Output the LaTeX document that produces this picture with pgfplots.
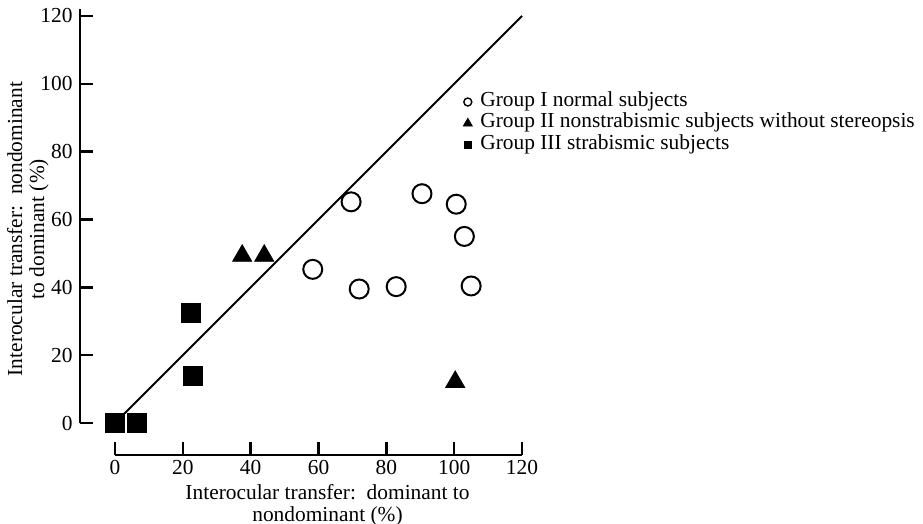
\documentclass[border=0pt]{standalone}
\usepackage{fontspec}
\setmainfont{Liberation Serif}
\usepackage{pgfplots}
\pgfplotsset{compat=1.18}
\begin{document}
\fontsize{10.7}{11}\selectfont
\begin{tikzpicture}
\useasboundingbox (-57.5pt,-50.5pt) rectangle (404pt,211.5pt);
\begin{axis}[
  at={(0,0)}, anchor=origin,
  x=1.696pt, y=1.696pt,
  xmin=0, xmax=120, ymin=0, ymax=122,
  axis lines=left,
  axis line style={-, line width=1.2pt},
  axis x line shift=16pt,
  axis y line shift=17.5pt,
  xtick={0,20,...,120}, ytick={0,20,...,120},
  tick align=inside,
  major tick length=6.5pt,
  tick style={line width=1.2pt, black},
  clip=false,
  font=\fontsize{10.7}{11}\selectfont,
  /pgf/number format/assume math mode=true,
  xticklabel style={yshift=1pt},
  xlabel={Interocular transfer:\ \ dominant to\\nondominant (\%)},
  ylabel={Interocular transfer:\ \ nondominant\\to dominant (\%)},
  xlabel style={align=center, xshift=4.5pt, yshift=2.5pt},
  ylabel style={align=center, xshift=-6.5pt, yshift=-11.5pt},
  legend style={at={(axis cs:100.8,99.1)}, anchor=north west, draw=none, fill=none,
    font=\fontsize{10.7}{11}\selectfont,
    nodes={inner sep=0pt, text height=7.5pt, text depth=3.25pt},
    /tikz/every odd column/.append style={column sep=4pt}},
  legend cell align=left,
  legend image code/.code={\draw[#1] plot coordinates {(0pt,0pt)};},
]
\addlegendimage{only marks, mark=o, mark size=2pt, line width=0.7pt, black}
\addlegendentry{Group I normal subjects}
\addlegendimage{only marks, mark=triangle*, mark size=2.6pt, black}
\addlegendentry{Group II nonstrabismic subjects without stereopsis}
\addlegendimage{only marks, mark=square*, mark size=1.8pt, black}
\addlegendentry{Group III strabismic subjects}

\addplot[black, line width=1pt, forget plot] coordinates {(0,0) (120,120)};

\addplot[only marks, mark=o, mark size=4.75pt, line width=1pt, black, forget plot] coordinates {
(69.6,65.2) (90.5,67.6) (100.6,64.5) (103.0,55.0) (58.3,45.3) (72.0,39.5) (82.9,40.2) (105.0,40.4)
};
\addplot[only marks, mark=triangle*, mark size=5.5pt, black, forget plot] coordinates {
(37.5,49.3) (44.0,49.3) (100.3,12.1)
};
\addplot[only marks, mark=square*, mark size=4.75pt, black, forget plot] coordinates {
(0,0) (6.5,0) (22.3,32.6) (23.0,13.9)
};
\end{axis}
\end{tikzpicture}
\end{document}
